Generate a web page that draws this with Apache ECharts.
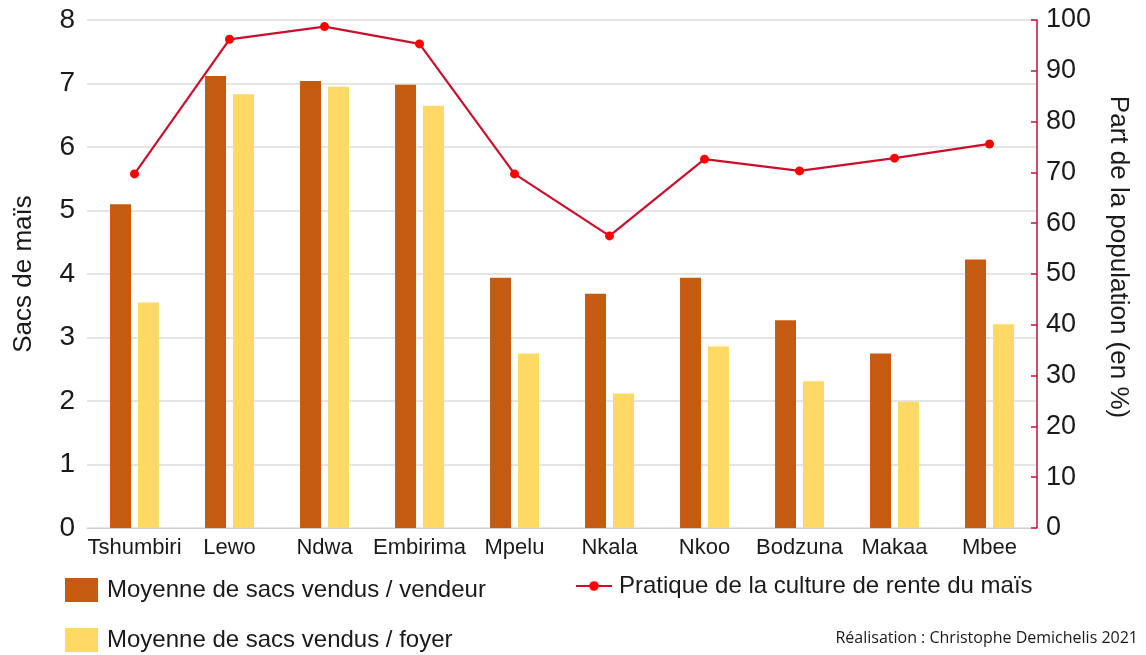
<!DOCTYPE html>
<html>
<head>
<meta charset="utf-8">
<script src="https://cdn.jsdelivr.net/npm/echarts@6/dist/echarts.min.js"></script>
<style>
  html, body { margin: 0; padding: 0; background: #fff; }
  #chart { width: 1146px; height: 655px; }
</style>
</head>
<body>
<div id="chart"></div>
<script>
const categories = ['Tshumbiri', 'Lewo', 'Ndwa', 'Embirima', 'Mpelu', 'Nkala', 'Nkoo', 'Bodzuna', 'Makaa', 'Mbee'];
const sacsVendeur = [5.1, 7.12, 7.04, 6.98, 3.94, 3.69, 3.94, 3.27, 2.75, 4.23];
const sacsFoyer = [3.55, 6.83, 6.95, 6.65, 2.75, 2.12, 2.86, 2.31, 1.99, 3.21];
const pratique = [69.7, 96.2, 98.7, 95.3, 69.7, 57.5, 72.6, 70.3, 72.8, 75.6];
const leftTicks = [0, 8, 1];
const rightTicks = [0, 100, 10];
const seriesNames = ['Moyenne de sacs vendus / vendeur', 'Moyenne de sacs vendus / foyer', 'Pratique de la culture de rente du maïs'];

const FONT = '"Liberation Sans", Arial, Helvetica, sans-serif';
const legendText = { fontSize: 24, color: '#1a1a1a', fontFamily: FONT, padding: [0, 0, 0, 4] };
const chart = echarts.init(document.getElementById('chart'));
chart.setOption({
  animation: false,
  backgroundColor: '#ffffff',
  textStyle: { fontFamily: FONT, color: '#1a1a1a' },
  grid: { left: 87, right: 109, top: 20, bottom: 127, containLabel: false },
  legend: [
    {
      left: 60, top: 573, itemWidth: 33, itemHeight: 24, icon: 'rect',
      textStyle: legendText, data: [seriesNames[0]]
    },
    {
      left: 60, top: 623, itemWidth: 33, itemHeight: 24, icon: 'rect',
      textStyle: legendText, data: [seriesNames[1]]
    },
    {
      left: 570, top: 569, itemWidth: 36, itemHeight: 12,
      textStyle: { fontSize: 24, color: '#1a1a1a', fontFamily: FONT, padding: [0, 0, 0, 2] },
      data: [seriesNames[2]]
    }
  ],
  xAxis: {
    type: 'category',
    data: categories,
    axisLine: { show: true, lineStyle: { color: '#d0d0d0', width: 1 } },
    axisTick: { show: false },
    axisLabel: { fontSize: 22, color: '#1a1a1a', margin: 9, interval: 0, fontFamily: FONT }
  },
  yAxis: [
    {
      type: 'value', min: leftTicks[0], max: leftTicks[1], interval: leftTicks[2],
      name: 'Sacs de maïs', nameLocation: 'middle', nameGap: 50, nameRotate: 90,
      nameTextStyle: { fontSize: 26, color: '#1a1a1a', fontFamily: FONT },
      axisLine: { show: false }, axisTick: { show: false },
      axisLabel: { fontSize: 28, color: '#1a1a1a', margin: 12, fontFamily: FONT },
      splitLine: { show: true, lineStyle: { color: '#dcdcdc', width: 1.5 } }
    },
    {
      type: 'value', min: rightTicks[0], max: rightTicks[1], interval: rightTicks[2],
      position: 'right',
      axisLine: { show: true, lineStyle: { color: '#c8102e', width: 1.5 } },
      axisTick: { show: true, inside: true, length: 6, lineStyle: { color: '#c8102e', width: 1.5 } },
      axisLabel: { fontSize: 27, color: '#1a1a1a', margin: 9, fontFamily: FONT },
      splitLine: { show: false }
    }
  ],
  graphic: [
    {
      type: 'text', x: 1118, y: 257, rotation: -Math.PI / 2,
      style: { text: 'Part de la population (en %)', fontSize: 26, fontFamily: FONT, fill: '#1a1a1a', align: 'center', verticalAlign: 'middle' }
    },
    {
      type: 'text', right: 8, top: 630,
      style: { text: 'Réalisation : Christophe Demichelis 2021', fontSize: 16, fontFamily: '"Open Sans", sans-serif', fill: '#1a1a1a' }
    }
  ],
  series: [
    {
      name: seriesNames[0], type: 'bar', yAxisIndex: 0,
      data: sacsVendeur, barWidth: 21, barGap: '33%',
      itemStyle: { color: '#c55a11' }
    },
    {
      name: seriesNames[1], type: 'bar', yAxisIndex: 0,
      data: sacsFoyer, barWidth: 21,
      itemStyle: { color: '#ffd966' }
    },
    {
      name: seriesNames[2], type: 'line', yAxisIndex: 1,
      data: pratique, symbol: 'circle', symbolSize: 9,
      lineStyle: { color: '#c8102e', width: 2.2 },
      itemStyle: { color: '#ff0000', borderWidth: 0 }
    }
  ]
});
</script>
</body>
</html>
